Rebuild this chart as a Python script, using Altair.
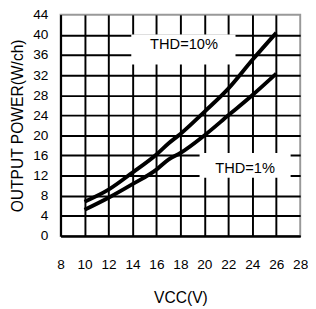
import altair as alt
import pandas as pd

vcc = [10, 12, 14, 16, 17, 18, 20, 22, 24, 26]
thd10 = [6.8, 9.2, 12.6, 16.2, 18.4, 20.3, 24.7, 29.3, 35.0, 40.4]
thd1 = [5.2, 7.6, 10.3, 13.2, 15.2, 16.5, 20.0, 24.0, 28.0, 32.3]

x_ticks = list(range(8, 29, 2))
y_ticks = list(range(0, 45, 4))

labels = ["THD=10%", "THD=1%"]
label_x = [18.3, 23.4]
label_y = [38.2, 13.4]
box_x1 = [13.9, 19.6]
box_x2 = [22.6, 27.2]
box_y1 = [34.1, 11.6]
box_y2 = [40.1, 16.5]

rows = []
for v, a, b in zip(vcc, thd10, thd1):
    rows.append({"vcc": v, "p": a, "s": "THD=10%"})
    rows.append({"vcc": v, "p": b, "s": "THD=1%"})
df = pd.DataFrame(rows)
lab = pd.DataFrame({"t": labels, "x": label_x, "y": label_y,
                    "x1": box_x1, "x2": box_x2, "y1": box_y1, "y2": box_y2})

FONT = "Liberation Sans"
xs = alt.Scale(domain=[8, 28], nice=False, zero=False)
ys = alt.Scale(domain=[0, 44], nice=False)

xaxis = alt.Axis(values=x_ticks, title="VCC(V)", grid=True, gridColor="black",
                 gridWidth=2,
                 gridOpacity=alt.condition("datum.value == 28", alt.value(0), alt.value(1)),
                 ticks=False, domainColor="black", domainWidth=2,
                 labelOverlap=False, labelFlush=False,
                 labelPadding=22, labelFontSize=14, labelColor="black", labelFont=FONT,
                 titleFontSize=16, titleFont=FONT, titleFontWeight="normal",
                 titleColor="black", titlePadding=19)
yaxis = alt.Axis(values=y_ticks, title="OUTPUT POWER(W/ch)", grid=True, gridColor="black",
                 gridWidth=2,
                 gridOpacity=alt.condition("datum.value == 44", alt.value(0), alt.value(1)),
                 ticks=False, domainColor="black", domainWidth=2,
                 labelOverlap=False, labelFlush=False,
                 labelPadding=13, labelFontSize=14, labelColor="black", labelFont=FONT,
                 titleFontSize=16, titleFont=FONT, titleFontWeight="normal",
                 titleColor="black", titlePadding=8)

lines = alt.Chart(df).mark_line(color="black", strokeWidth=4, interpolate="monotone").encode(
    x=alt.X("vcc:Q", scale=xs, axis=xaxis),
    y=alt.Y("p:Q", scale=ys, axis=yaxis),
    detail="s:N",
)
boxes = alt.Chart(lab).mark_rect(color="white").encode(
    x=alt.X("x1:Q", scale=xs, axis=xaxis), x2="x2",
    y=alt.Y("y1:Q", scale=ys, axis=yaxis), y2="y2"
)
texts = alt.Chart(lab).mark_text(fontSize=15, font=FONT, color="black").encode(
    x=alt.X("x:Q", scale=xs, axis=xaxis), y=alt.Y("y:Q", scale=ys, axis=yaxis), text="t:N"
)

chart = alt.layer(boxes, lines, texts).properties(
    width=246, height=227, autosize="none",
    padding={"left": 54, "top": 3, "right": 8, "bottom": 70},
).configure_view(stroke="#999999", strokeWidth=2)

chart.save("out.html", embed_options={"renderer": "svg", "actions": False})
